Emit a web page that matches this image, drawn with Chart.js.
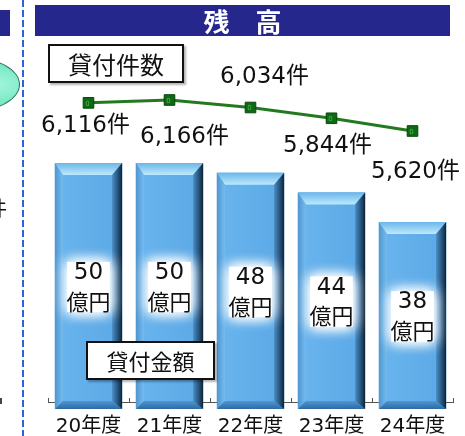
<!DOCTYPE html>
<html lang="ja">
<head>
<meta charset="utf-8">
<title>残高</title>
<script src="https://cdn.jsdelivr.net/npm/chart.js@4.4.1/dist/chart.umd.min.js"></script>
<style>
  html, body { margin: 0; padding: 0; background: #ffffff; }
  #wrap { position: relative; width: 465px; height: 436px; overflow: hidden; background: #fff;
          font-family: "Noto Sans CJK JP", "Noto Sans", sans-serif; }
  #chart { position: absolute; left: 0; top: 0; }
  .title-bar { position: absolute; left: 35px; top: 5px; width: 415px; height: 31px; background: #25278d;
               color: #fff; font-size: 26px; font-weight: bold; line-height: 31px; text-align: center; }
  .prev-bar { position: absolute; left: 0; top: 10px; width: 10px; height: 26px; background: #25278d; }
  .divider { position: absolute; left: 22px; top: 0; width: 2px; height: 436px;
             background: repeating-linear-gradient(to bottom, #2f62d8 0 7px, transparent 7px 10px); }
  .prev-oval { position: absolute; left: -80px; top: 57px; width: 100px; height: 55px; border-radius: 50%;
               background: radial-gradient(ellipse at 70% 50%, #a8f7df 0%, #6fe6bf 60%, #4fd3a8 100%);
               border: 1px solid #2f6f5a; box-sizing: border-box; }
  .prev-unit { position: absolute; left: -13px; top: 196px; font-size: 20px; color: #111; line-height: 24px; }
  .prev-tick { position: absolute; left: 0; top: 398px; width: 2px; height: 6px; background: #444; }
  .tag { position: absolute; background: #fff; border: 2px solid #111; box-sizing: border-box; color: #111;
         text-align: center; box-shadow: 2px 2px 2px rgba(0,0,0,0.3); }
  .tag-count { left: 48px; top: 44px; width: 136px; height: 39px; font-size: 24px; line-height: 35px; }
  .tag-amount { left: 86px; top: 341px; width: 129px; height: 39px; font-size: 22px; line-height: 35px; }
</style>
</head>
<body>
<div id="wrap">
  <canvas id="chart" width="465" height="452"></canvas>
  <div class="prev-bar"></div>
  <div class="prev-oval"></div>
  <div class="prev-unit">件</div>
  <div class="prev-tick"></div>
  <div class="divider"></div>
  <div class="title-bar">残　高</div>
  <div class="tag tag-count">貸付件数</div>
  <div class="tag tag-amount">貸付金額</div>
</div>
<script>
// Fiscal years
const years = ['20年度', '21年度', '22年度', '23年度', '24年度'];
// Outstanding loan amount (億円)
const loanAmount = [50, 50, 48, 44, 38];
// Number of loans (件)
const loanCount = [6116, 6166, 6034, 5844, 5620];

// Where each count label sits relative to its point (dx, dy in px)
const countLabelOffsets = [[-3, 23], [15, 37], [14, -30], [-4, 28], [3, 41]];

const FONT = '"DejaVu Sans", "Noto Sans CJK JP", sans-serif';

// Bevelled 3D look for the bars, drawn from the bar elements' own geometry
const bevelBars = {
  id: 'bevelBars',
  afterDatasetDraw(chart, args) {
    if (chart.data.datasets[args.index].type !== 'bar') return;
    const ctx = chart.ctx;
    args.meta.data.forEach(bar => {
      const { x, y, base, width } = bar.getProps(['x', 'y', 'base', 'width'], true);
      const l = x - width / 2, r = x + width / 2, t = y, b = base;
      const bt = 12, bl = 8, br = 10, bb = 8;
      ctx.save();
      // face
      let g = ctx.createLinearGradient(l, 0, r, 0);
      g.addColorStop(0, '#6ab5ee');
      g.addColorStop(1, '#5aa8e6');
      ctx.fillStyle = g;
      ctx.fillRect(l, t, width, b - t);
      // top bevel
      g = ctx.createLinearGradient(0, t, 0, t + bt);
      g.addColorStop(0, '#6cb6ea');
      g.addColorStop(1, '#bdeafd');
      ctx.fillStyle = g;
      ctx.beginPath();
      ctx.moveTo(l, t); ctx.lineTo(r, t); ctx.lineTo(r - br, t + bt); ctx.lineTo(l + bl, t + bt); ctx.closePath();
      ctx.fill();
      // left bevel
      g = ctx.createLinearGradient(l, 0, l + bl, 0);
      g.addColorStop(0, '#4f95cf');
      g.addColorStop(1, '#74bcef');
      ctx.fillStyle = g;
      ctx.beginPath();
      ctx.moveTo(l, t); ctx.lineTo(l + bl, t + bt); ctx.lineTo(l + bl, b - bb); ctx.lineTo(l, b); ctx.closePath();
      ctx.fill();
      // bottom bevel
      g = ctx.createLinearGradient(0, b - bb, 0, b);
      g.addColorStop(0, '#4f97d4');
      g.addColorStop(1, '#2e6aa4');
      ctx.fillStyle = g;
      ctx.beginPath();
      ctx.moveTo(l, b); ctx.lineTo(r, b); ctx.lineTo(r - br, b - bb); ctx.lineTo(l + bl, b - bb); ctx.closePath();
      ctx.fill();
      // right bevel
      g = ctx.createLinearGradient(r - br, 0, r, 0);
      g.addColorStop(0, '#4a8cc4');
      g.addColorStop(0.6, '#24527a');
      g.addColorStop(1, '#0e2134');
      ctx.fillStyle = g;
      ctx.beginPath();
      ctx.moveTo(r, t); ctx.lineTo(r, b); ctx.lineTo(r - br, b - bb); ctx.lineTo(r - br, t + bt); ctx.closePath();
      ctx.fill();
      ctx.restore();
    });
  }
};

// Value labels: amounts inside bars, counts beside the line points
const valueLabels = {
  id: 'valueLabels',
  afterDatasetsDraw(chart) {
    const ctx = chart.ctx;
    chart.data.datasets.forEach((ds, di) => {
      const meta = chart.getDatasetMeta(di);
      if (ds.type === 'bar') {
        meta.data.forEach((bar, i) => {
          const { x, y, base } = bar.getProps(['x', 'y', 'base'], true);
          const cy = (y + base) / 2 + 1;
          // soft white halo behind the amount
          ctx.save();
          ctx.shadowColor = 'rgba(255,255,255,1)';
          ctx.shadowBlur = 14;
          ctx.fillStyle = 'rgba(255,255,255,0.9)';
          for (let k = 0; k < 3; k++) ctx.fillRect(x - 21, cy - 25, 42, 50);
          ctx.restore();
          ctx.save();
          ctx.fillStyle = '#111';
          ctx.textAlign = 'center';
          ctx.textBaseline = 'middle';
          ctx.font = '23px ' + FONT;
          ctx.fillText(String(ds.data[i]), x, cy - 14);
          ctx.font = '22px ' + FONT;
          ctx.fillText('億円', x, cy + 17);
          ctx.restore();
        });
      } else if (ds.type === 'line') {
        meta.data.forEach((pt, i) => {
          const { x, y } = pt.getProps(['x', 'y'], true);
          ctx.save();
          // small marker caption
          ctx.fillStyle = '#58b858';
          ctx.font = '7px ' + FONT;
          ctx.textAlign = 'center';
          ctx.textBaseline = 'middle';
          ctx.fillText('0', x - 1, y + 1);
          // count label
          const [dx, dy] = countLabelOffsets[i];
          ctx.fillStyle = '#111';
          ctx.font = '23px ' + FONT;
          ctx.fillText(ds.data[i].toLocaleString('en-US') + '件', x + dx, y + dy);
          ctx.restore();
        });
      }
    });
  }
};

// Short upward tick marks on the category boundaries
const boundaryTicks = {
  id: 'boundaryTicks',
  afterDraw(chart) {
    const xs = chart.scales.x;
    const n = chart.data.labels.length;
    const ctx = chart.ctx;
    ctx.save();
    ctx.strokeStyle = '#555';
    ctx.lineWidth = 1;
    for (let i = 0; i <= n; i++) {
      const px = Math.round(xs.left + i * (xs.right - xs.left) / n) + 0.5;
      ctx.beginPath();
      ctx.moveTo(px, xs.top - 4);
      ctx.lineTo(px, xs.top + 1);
      ctx.stroke();
    }
    ctx.restore();
  }
};

new Chart(document.getElementById('chart'), {
  data: {
    labels: years,
    datasets: [
      {
        type: 'line',
        label: '貸付件数',
        data: loanCount,
        yAxisID: 'yCount',
        order: 1,
        borderColor: '#23791f',
        borderWidth: 3,
        pointStyle: 'rect',
        pointRadius: 7.5,
        pointBackgroundColor: '#0b6a12',
        pointBorderColor: '#06480a',
        pointBorderWidth: 1,
        tension: 0
      },
      {
        type: 'bar',
        label: '貸付金額',
        data: loanAmount,
        yAxisID: 'yAmount',
        order: 2,
        backgroundColor: '#62aeea',
        borderWidth: 0,
        categoryPercentage: 1.0,
        barPercentage: 0.83
      }
    ]
  },
  options: {
    responsive: false,
    animation: false,
    events: [],
    layout: { padding: { left: 48, right: 12, top: 60, bottom: 0 } },
    plugins: { legend: { display: false }, tooltip: { enabled: false }, title: { display: false } },
    scales: {
      x: {
        offset: true,
        grid: { display: false, drawTicks: false },
        border: { display: true, color: '#555', width: 1 },
        ticks: { color: '#111', padding: 13, font: { family: FONT, size: 20 } }
      },
      yAmount: { display: false, position: 'left', min: 1.4, max: 70.95 },
      yCount: { display: false, position: 'right', min: 847.5, max: 6870.5 }
    }
  },
  plugins: [bevelBars, valueLabels, boundaryTicks]
});
</script>
</body>
</html>
